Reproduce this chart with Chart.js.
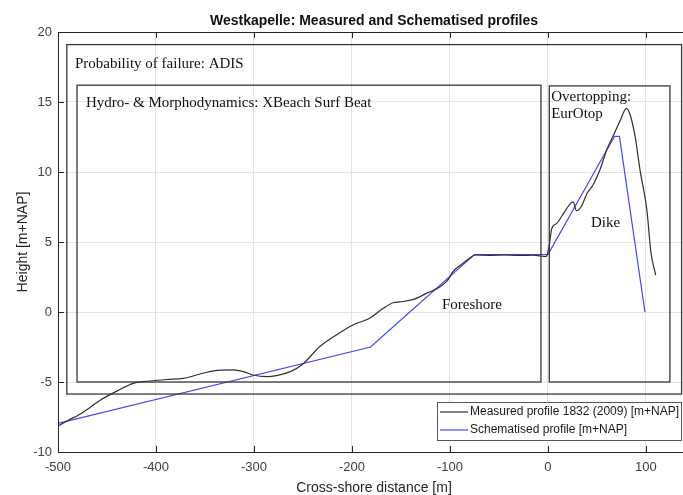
<!DOCTYPE html>
<html>
<head>
<meta charset="utf-8">
<script src="https://cdn.jsdelivr.net/npm/chart.js@4/dist/chart.umd.min.js"></script>
<style>
  html, body { margin: 0; padding: 0; background: #fff; overflow: hidden; }
  #wrap { width: 700px; height: 495px; }
</style>
</head>
<body>
<div id="wrap"><canvas id="c" width="700" height="495"></canvas></div>
<script>
// ---- data ----
const measuredX = [-500,-490,-479,-468,-457,-440,-423,-406,-389,-372,-355,-341,-321,-311,-301,-287,-277,-263,-250,-233,-216,-199,-182,-168,-158,-151,-137,-124,-110,-102,-97,-88,-80,-74,-60,-45,-30,-15,-8,-2,1,4,9,16,24,26,29,34,40,46,53,60,67,74,80,84,89,94,101,105,110];
const measuredY = [-8.15,-7.75,-7.35,-6.85,-6.3,-5.65,-5.1,-4.93,-4.82,-4.74,-4.43,-4.2,-4.14,-4.26,-4.5,-4.62,-4.55,-4.26,-3.71,-2.48,-1.64,-0.93,-0.45,0.26,0.66,0.72,0.9,1.33,1.81,2.29,2.88,3.41,3.84,4.07,4.05,4.08,4.04,4.06,4.0,3.95,4.6,5.98,6.33,7.05,7.81,7.85,7.24,7.52,8.48,9.07,10.14,11.57,12.64,13.71,14.55,14.07,12.52,10.14,7.29,4.31,2.64];
const schematisedX = [-500,-181,-75,0,68,73,99];
const schematisedY = [-7.95,-2.5,4.1,4.1,12.55,12.55,0];
const seriesLabels = ['Measured profile 1832 (2009) [m+NAP]', 'Schematised profile [m+NAP]'];
const xTickValues = [-500,-400,-300,-200,-100,0,100];
const yTickValues = [-10,-5,0,5,10,15,20];
const chartTitle = 'Westkapelle: Measured and Schematised profiles';
const xAxisTitle = 'Cross-shore distance [m]';
const yAxisTitle = 'Height [m+NAP]';
// annotation boxes (data units) and texts
const boxLabels = ['Probability of failure: ADIS', 'Hydro- & Morphodynamics: XBeach Surf Beat', 'Overtopping:', 'EurOtop', 'Dike', 'Foreshore'];

const toPts = (xs, ys) => xs.map((x, i) => ({x: x, y: ys[i]}));

const SANS = '"Liberation Sans", Arial, sans-serif';
const SERIF = '"Liberation Serif", "Times New Roman", serif';
const AXIS = '#262626';

const boxes = [
  {x0: -491, x1: 136.4, y0: -5.86, y1: 19.1},
  {x0: -480.6, x1: -7.1, y0: -5, y1: 16.2},
  {x0: 1.4, x1: 124.5, y0: -5, y1: 16.15}
];
const texts = [
  {t: boxLabels[0], x: -482.7, y: 17.43},
  {t: boxLabels[1], x: -471.4, y: 14.64},
  {t: boxLabels[2], x: 3.3, y: 15.07},
  {t: boxLabels[3], x: 3.3, y: 13.86},
  {t: boxLabels[4], x: 43.9, y: 6.07},
  {t: boxLabels[5], x: -108.2, y: 0.21}
];

const decor = {
  id: 'decor',
  afterDatasetsDraw(chart) {
    const ctx = chart.ctx, xs = chart.scales.x, ys = chart.scales.y, a = chart.chartArea;
    ctx.save();
    // annotation boxes
    ctx.strokeStyle = '#3a3a3a';
    ctx.lineWidth = 1.3;
    boxes.forEach(b => {
      const l = xs.getPixelForValue(b.x0), r = xs.getPixelForValue(b.x1);
      const t = ys.getPixelForValue(b.y1), bo = ys.getPixelForValue(b.y0);
      ctx.strokeRect(l, t, r - l, bo - t);
    });
    ctx.fillStyle = '#111';
    ctx.font = '15px ' + SERIF;
    ctx.textAlign = 'left';
    ctx.textBaseline = 'alphabetic';
    texts.forEach(o => ctx.fillText(o.t, xs.getPixelForValue(o.x), ys.getPixelForValue(o.y)));

    // axes box
    ctx.strokeStyle = AXIS;
    ctx.lineWidth = 1;
    ctx.strokeRect(a.left + 0.5, a.top + 0.5, a.right - a.left, a.bottom - a.top);
    // inward ticks
    ctx.beginPath();
    xTickValues.forEach(v => {
      const px = Math.round(xs.getPixelForValue(v)) + 0.5;
      ctx.moveTo(px, a.bottom); ctx.lineTo(px, a.bottom - 6);
      ctx.moveTo(px, a.top); ctx.lineTo(px, a.top + 6);
    });
    yTickValues.forEach(v => {
      const py = Math.round(ys.getPixelForValue(v)) + 0.5;
      ctx.moveTo(a.left, py); ctx.lineTo(a.left + 6, py);
      ctx.moveTo(a.right, py); ctx.lineTo(a.right - 6, py);
    });
    ctx.stroke();

    // legend
    const lx = 437, ly = 402, lw = 244, lh = 38;
    ctx.fillStyle = '#fff';
    ctx.fillRect(lx, ly, lw, lh);
    ctx.strokeStyle = '#555';
    ctx.lineWidth = 1;
    ctx.strokeRect(lx + 0.5, ly + 0.5, lw, lh);
    ctx.font = '12px ' + SANS;
    ctx.textBaseline = 'middle';
    chart.data.datasets.forEach((ds, i) => {
      const yy = ly + 10 + i * 18;
      ctx.strokeStyle = ds.borderColor;
      ctx.lineWidth = 1.2;
      ctx.beginPath(); ctx.moveTo(lx + 3, yy); ctx.lineTo(lx + 31, yy); ctx.stroke();
      ctx.fillStyle = '#1a1a1a';
      ctx.fillText(ds.label, lx + 33, yy);
    });

    // titles
    ctx.fillStyle = '#111';
    ctx.font = 'bold 14px ' + SANS;
    ctx.textAlign = 'center';
    ctx.textBaseline = 'alphabetic';
    const cx = (a.left + a.right) / 2;
    ctx.fillText(chartTitle, cx, 24.5);
    ctx.fillStyle = '#262626';
    ctx.font = '14px ' + SANS;
    ctx.fillText(xAxisTitle, cx, 491.5);
    ctx.save();
    ctx.translate(27, (a.top + a.bottom) / 2);
    ctx.rotate(-Math.PI / 2);
    ctx.fillText(yAxisTitle, 0, 0);
    ctx.restore();
    ctx.restore();
  }
};

new Chart(document.getElementById('c'), {
  type: 'scatter',
  data: {
    datasets: [
      {label: seriesLabels[0], data: toPts(measuredX, measuredY), showLine: true, borderColor: '#303030', borderWidth: 1.2, pointRadius: 0, tension: 0.25, cubicInterpolationMode: 'monotone'},
      {label: seriesLabels[1], data: toPts(schematisedX, schematisedY), showLine: true, borderColor: '#4646f5', borderWidth: 1.2, pointRadius: 0, tension: 0}
    ]
  },
  options: {
    responsive: false,
    animation: false,
    devicePixelRatio: 1,
    layout: {padding: {top: 32, right: 10, left: 0, bottom: 0}},
    plugins: {legend: {display: false}, title: {display: false}, tooltip: {enabled: false}},
    scales: {
      x: {
        type: 'linear', min: -500, max: 145,
        afterBuildTicks: s => { s.ticks = xTickValues.map(v => ({value: v})); },
        afterFit: s => { s.height = 43; },
        grid: {color: '#e4e4e4', lineWidth: 1, drawTicks: false},
        border: {display: false},
        ticks: {padding: 8, color: '#404040', font: {family: SANS, size: 13}, maxRotation: 0}
      },
      y: {
        type: 'linear', min: -10, max: 20,
        afterBuildTicks: s => { s.ticks = yTickValues.map(v => ({value: v})); },
        afterFit: s => { s.width = 58; },
        grid: {color: '#e4e4e4', lineWidth: 1, drawTicks: false},
        border: {display: false},
        ticks: {padding: 6, color: '#404040', font: {family: SANS, size: 13}}
      }
    }
  },
  plugins: [decor]
});
</script>
</body>
</html>
